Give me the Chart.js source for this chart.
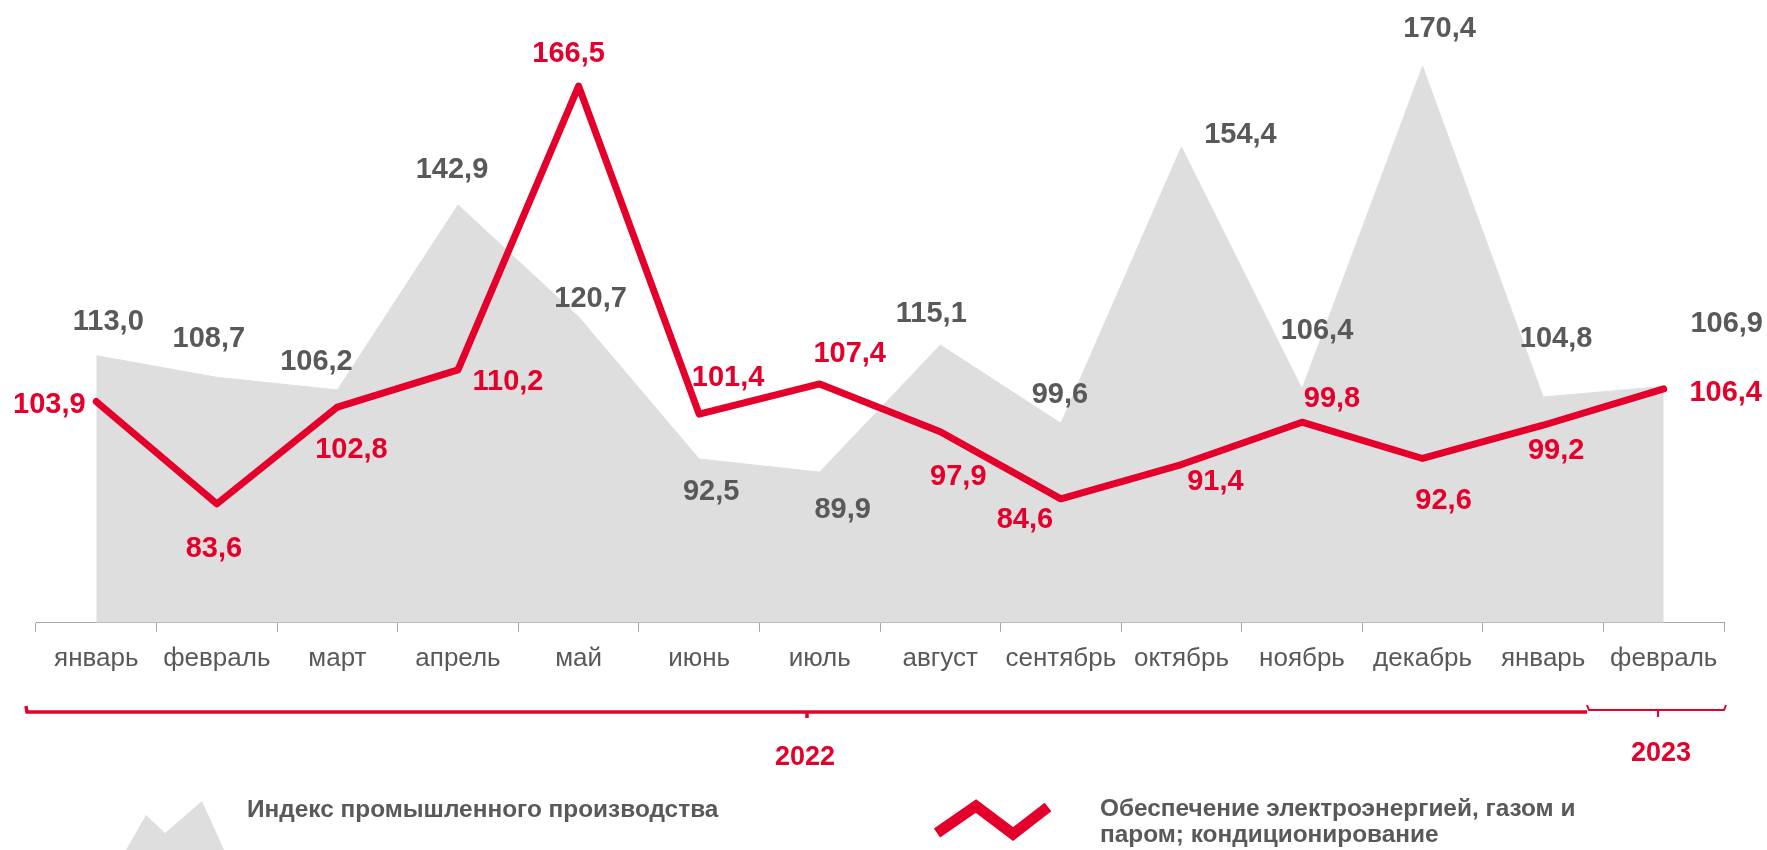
<!DOCTYPE html>
<html lang="ru">
<head>
<meta charset="utf-8">
<script src="https://cdn.jsdelivr.net/npm/chart.js@4.4.1/dist/chart.umd.min.js"></script>
<style>
  html, body { margin: 0; padding: 0; background: #fff; }
  #wrap { width: 1767px; height: 850px; position: relative; }
</style>
</head>
<body>
<div id="wrap"><canvas id="chart"></canvas></div>
<script>
// Месяцы
const months = ['январь', 'февраль', 'март', 'апрель', 'май', 'июнь', 'июль', 'август',
  'сентябрь', 'октябрь', 'ноябрь', 'декабрь', 'январь', 'февраль'];

// Индекс промышленного производства (серая область)
const industryIndex = [113.0, 108.7, 106.2, 142.9, 120.7, 92.5, 89.9, 115.1, 99.6, 154.4, 106.4, 170.4, 104.8, 106.9];

// Обеспечение электроэнергией, газом и паром (красная линия)
const energySupply = [103.9, 83.6, 102.8, 110.2, 166.5, 101.4, 107.4, 97.9, 84.6, 91.4, 99.8, 92.6, 99.2, 106.4];

const years = ['2022', '2023'];
const legendLabels = ['Индекс промышленного производства',
  ['Обеспечение электроэнергией, газом и', 'паром; кондиционирование']];

// смещения подписей относительно точки (px)
const grayOffsets = [[12, -34], [-8, -38], [-21, -28], [-6, -35], [12, -18], [12, 33], [23, 38],
  [-9, -31], [-1, -28], [59, -12], [15, -58], [17, -37], [13, -58], [63, -62]];
const redOffsets = [[-47, 3], [-3, 45], [14, 43], [50, 12], [-10, -32], [29, -36], [30, -30],
  [18, 45], [-36, 21], [34, 17], [30, -23], [21, 43], [13, 26], [62, 4]];

const RED = '#e4002b';
const GRAY_TXT = '#595959';
const AREA = '#dedede';
const FONT = "'Liberation Sans', Arial, sans-serif";

const fmt = v => v.toFixed(1).replace('.', ',');

// подписи значений
const valueLabels = {
  id: 'valueLabels',
  afterDatasetsDraw(chart) {
    const ctx = chart.ctx;
    ctx.save();
    ctx.font = 'bold 29px ' + FONT;
    ctx.textAlign = 'center';
    ctx.textBaseline = 'middle';
    chart.data.datasets.forEach((ds, i) => {
      const meta = chart.getDatasetMeta(i);
      const offs = ds.labelOffsets;
      ctx.fillStyle = ds.labelColor;
      meta.data.forEach((pt, j) => {
        ctx.fillText(fmt(ds.data[j]), pt.x + offs[j][0], pt.y + offs[j][1]);
      });
    });
    ctx.restore();
  }
};

// скобки годов и легенда
const decor = {
  id: 'decor',
  afterDraw(chart) {
    const ctx = chart.ctx;
    ctx.save();

    // скобка 2022
    ctx.strokeStyle = RED;
    ctx.lineWidth = 3.5;
    ctx.beginPath();
    ctx.moveTo(26, 706);
    ctx.lineTo(27, 712);
    ctx.lineTo(1587, 712);
    ctx.moveTo(807, 712);
    ctx.lineTo(807, 718);
    ctx.stroke();

    // скобка 2023
    ctx.lineWidth = 2;
    ctx.beginPath();
    ctx.moveTo(1587, 705);
    ctx.lineTo(1589, 710);
    ctx.lineTo(1724, 710);
    ctx.lineTo(1726, 705);
    ctx.moveTo(1658, 710);
    ctx.lineTo(1658, 717);
    ctx.stroke();

    ctx.fillStyle = RED;
    ctx.font = 'bold 27px ' + FONT;
    ctx.textAlign = 'center';
    ctx.textBaseline = 'middle';
    ctx.fillText(years[0], 805, 758);
    ctx.fillText(years[1], 1661, 754);

    // значок области
    ctx.fillStyle = AREA;
    ctx.beginPath();
    ctx.moveTo(126, 850);
    ctx.lineTo(146, 815);
    ctx.lineTo(165, 833);
    ctx.lineTo(202, 801);
    ctx.lineTo(224, 850);
    ctx.closePath();
    ctx.fill();

    // значок линии
    ctx.strokeStyle = RED;
    ctx.lineWidth = 11;
    ctx.lineJoin = 'miter';
    ctx.lineCap = 'butt';
    ctx.beginPath();
    ctx.moveTo(937, 833);
    ctx.lineTo(976, 806);
    ctx.lineTo(1013, 834);
    ctx.lineTo(1048, 807);
    ctx.stroke();

    ctx.fillStyle = GRAY_TXT;
    ctx.font = 'bold 24.4px ' + FONT;
    ctx.textAlign = 'left';
    ctx.fillText(legendLabels[0], 247, 810);
    ctx.fillText(legendLabels[1][0], 1100, 809);
    ctx.fillText(legendLabels[1][1], 1100, 835);

    ctx.restore();
  }
};

const ctx = document.getElementById('chart').getContext('2d');
new Chart(ctx, {
  type: 'line',
  data: {
    labels: months,
    datasets: [
      {
        label: legendLabels[1].join(' '),
        data: energySupply,
        borderColor: RED,
        borderWidth: 7,
        borderJoinStyle: 'round',
        borderCapStyle: 'round',
        pointRadius: 0,
        fill: false,
        tension: 0,
        order: 0,
        labelColor: RED,
        labelOffsets: redOffsets
      },
      {
        label: legendLabels[0],
        data: industryIndex,
        backgroundColor: AREA,
        borderColor: AREA,
        borderWidth: 1,
        pointRadius: 0,
        fill: 'start',
        tension: 0,
        order: 1,
        labelColor: GRAY_TXT,
        labelOffsets: grayOffsets
      }
    ]
  },
  options: {
    responsive: true,
    maintainAspectRatio: false,
    animation: false,
    layout: { padding: { top: 18, left: 36, right: 43, bottom: 165 } },
    plugins: {
      legend: { display: false },
      tooltip: { enabled: false }
    },
    scales: {
      x: {
        offset: true,
        grid: {
          offset: true,
          drawOnChartArea: false,
          tickLength: 9,
          color: '#a6a6a6'
        },
        border: { color: '#a6a6a6', width: 1 },
        ticks: {
          color: GRAY_TXT,
          padding: 11,
          maxRotation: 0,
          autoSkip: false,
          font: { family: FONT, size: 26 }
        }
      },
      y: {
        display: false,
        min: 60,
        max: 180
      }
    }
  },
  plugins: [valueLabels, decor]
});
</script>
</body>
</html>
